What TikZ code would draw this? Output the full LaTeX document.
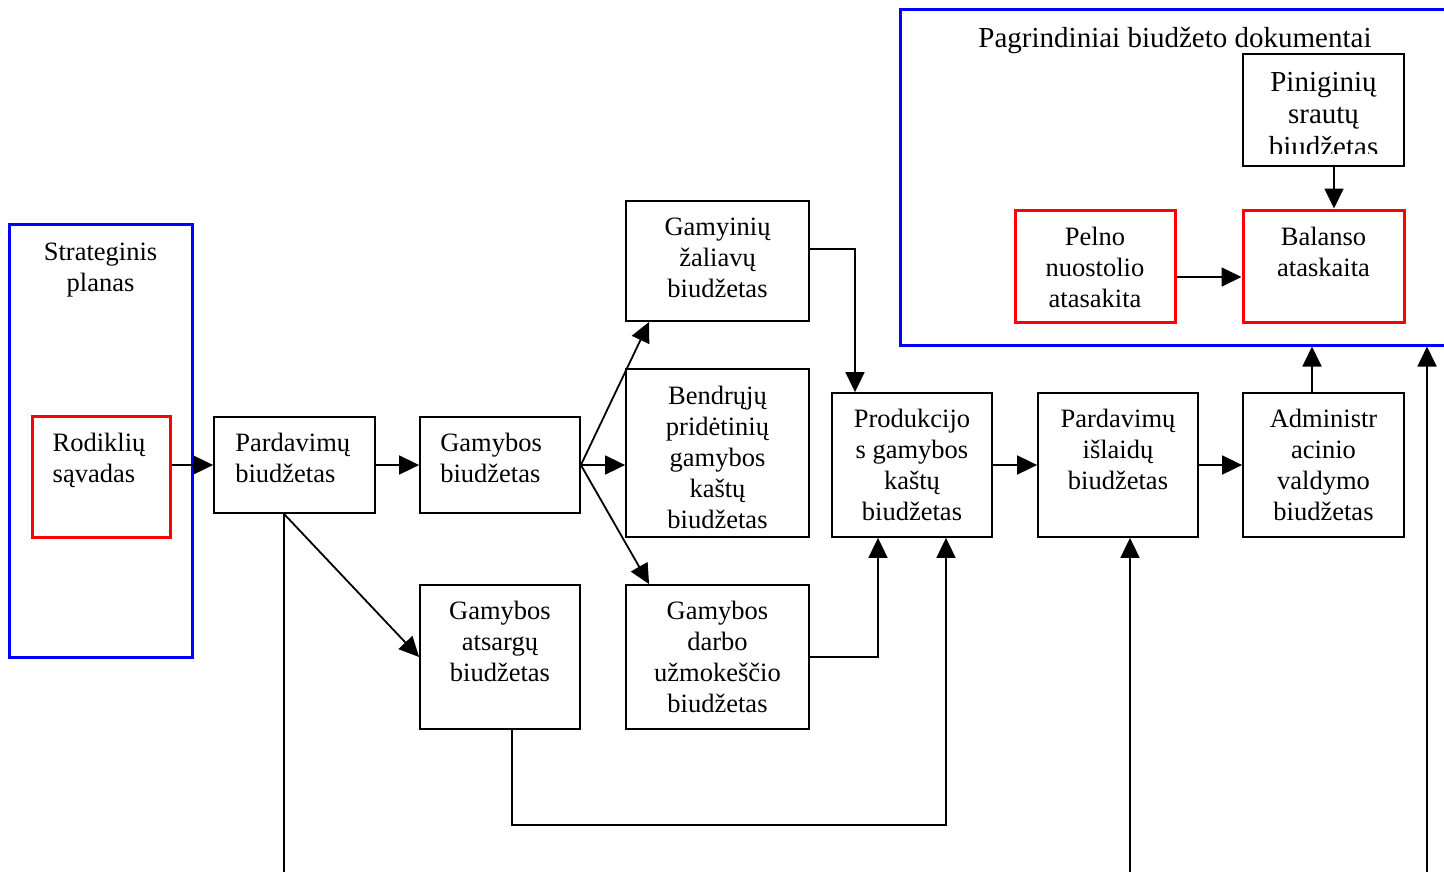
\documentclass[tikz,border=0pt]{standalone}
\usepackage{fontspec}
\setmainfont{Liberation Serif}
\usetikzlibrary{arrows.meta,calc}

% invisible strut that fixes the height of a first line
\newcommand{\topln}{\rule{0pt}{24pt}}

\begin{document}
\begin{tikzpicture}[x=1pt,y=-1pt,
  bx/.style={draw=black,line width=1.8pt,fill=white,inner sep=0pt,rectangle},
  redbx/.style={bx,draw=red,line width=3pt},
  group/.style={draw=blue,line width=3pt,inner sep=0pt,rectangle},
  txt/.style={font=\fontsize{26.5pt}{31pt}\selectfont,align=center,inner sep=0pt,anchor=north},
  bigtxt/.style={txt,font=\fontsize{29pt}{32.5pt}\selectfont},
  ltxt/.style={txt,align=left,anchor=north west},
  wire/.style={draw=black,line width=1.8pt},
  arr/.style={wire,-{Triangle[length=20pt,width=19pt]}}
]
\useasboundingbox (0,0) rectangle (1444,871);
\clip (0,0) rectangle (1444,871);

% group frames
\node[group,minimum width=183pt,minimum height=433pt] (sp) at (100.5,440.5) {};
\node[group,minimum width=552pt,minimum height=336pt] (pd) at (1176,177) {};
\node[txt] (spt) at ($(sp.north)+(0,14)$) {\topln Strateginis\\planas};
\node[bigtxt,anchor=base] (pdt) at (1175,47) {Pagrindiniai biudžeto dokumentai};

% boxes
\node[redbx,minimum width=138pt,minimum height=121pt] (rod) at (101,476.5) {};
\node[bx,minimum width=161pt,minimum height=96pt] (pb) at (294.5,465) {};
\node[bx,minimum width=160pt,minimum height=96pt] (gb) at (500,465) {};
\node[bx,minimum width=183pt,minimum height=120pt] (gz) at (717.5,261) {};
\node[bx,minimum width=183pt,minimum height=168pt] (bp) at (717.5,453) {};
\node[bx,minimum width=160pt,minimum height=144pt] (ga) at (500,657) {};
\node[bx,minimum width=183pt,minimum height=144pt] (gd) at (717.5,657) {};
\node[bx,minimum width=160pt,minimum height=144pt] (pk) at (912,465) {};
\node[bx,minimum width=160pt,minimum height=144pt] (pi) at (1118,465) {};
\node[bx,minimum width=161pt,minimum height=144pt] (ad) at (1323.5,465) {};
\node[bx,minimum width=161pt,minimum height=112pt] (pn) at (1323.5,110) {};
\node[redbx,minimum width=160pt,minimum height=112pt] (pl) at (1095,266) {};
\node[redbx,minimum width=161pt,minimum height=112pt] (bl) at (1323.5,266) {};

% box texts
\node[ltxt] (rodt) at ($(rod.north west)+(22,13)$) {\topln Rodiklių\\sąvadas};
\node[ltxt] (pbt) at ($(pb.north west)+(22,11)$) {\topln Pardavimų\\biudžetas};
\node[ltxt] (gbt) at ($(gb.north west)+(21,11)$) {\topln Gamybos\\biudžetas};
\node[txt] (gzt) at ($(gz.north)+(0,11)$) {\topln Gamyinių\\žaliavų\\biudžetas};
\node[txt] (bpt) at ($(bp.north)+(0,12)$) {\topln Bendrųjų\\pridėtinių\\gamybos\\kaštų\\biudžetas};
\node[txt] (gat) at ($(ga.north)+(0,11)$) {\topln Gamybos\\atsargų\\biudžetas};
\node[txt] (gdt) at ($(gd.north)+(0,11)$) {\topln Gamybos\\darbo\\užmokeščio\\biudžetas};
\node[txt] (pkt) at ($(pk.north)+(0,11)$) {\topln Produkcijo\\s gamybos\\kaštų\\biudžetas};
\node[txt] (pit) at ($(pi.north)+(0,11)$) {\topln Pardavimų\\išlaidų\\biudžetas};
\node[txt] (adt) at ($(ad.north)+(0,11)$) {\topln Administr\\acinio\\valdymo\\biudžetas};
\node[txt] (plt) at ($(pl.north)+(0,13)$) {\topln Pelno\\nuostolio\\atasakita};
\node[txt] (blt) at ($(bl.north)+(0,13)$) {\topln Balanso\\ataskaita};
\begin{scope}
  % the last line of this box is cut off by the frame
  \clip (pn.north west) rectangle ($(pn.south east)+(0,-13.5)$);
  \node[bigtxt] (pnt) at ($(pn.north)+(0,14)$) {\topln Piniginių\\srautų\\biudžetas};
\end{scope}

% free ends at the lower edge
\coordinate (bot1) at ($(pb.south)+(-10.5,0)$);
\coordinate (bot1e) at (bot1 |- 0,890);
\coordinate (bot2) at (1130,890);
\coordinate (bot3) at (1427,890);
\coordinate (adtop) at ($(ad.north)+(-11.5,0)$);

% connectors
\draw[arr] ($(rod.east)+(0,-11.5)$) -- (pb.west);
\draw[arr] (pb.east) -- (gb.west);
\draw[arr] (gb.east) -- ($(gz.south west)+(24,0)$);
\draw[arr] (gb.east) -- ($(bp.west)+(0,12)$);
\draw[arr] (gb.east) -- ($(gd.north west)+(24,0)$);
\draw[arr] (bot1) -- (ga.west);
\draw[wire] (bot1) -- (bot1e);
\draw[arr] ($(gz.east)+(0,-12)$) -| ($(pk.north)+(-57,0)$);
\draw[arr] (gd.east) -| ($(pk.south)+(-34,0)$);
\draw[arr] ($(ga.south)+(12,0)$) -- ++(0,95) -| ($(pk.south)+(34,0)$);
\draw[arr] (pk.east) -- (pi.west);
\draw[arr] (pi.east) -- (ad.west);
\draw[arr] (bot2) -- ($(pi.south)+(12,0)$);
\draw[arr] (adtop) -- (adtop |- pd.south);
\draw[arr] (bot3) -- (bot3 |- pd.south);
\draw[arr] ($(pn.south)+(10.5,0)$) -- ($(bl.north)+(10.5,0)$);
\draw[arr] ($(pl.east)+(0,11)$) -- ($(bl.west)+(0,11)$);
\end{tikzpicture}
\end{document}
